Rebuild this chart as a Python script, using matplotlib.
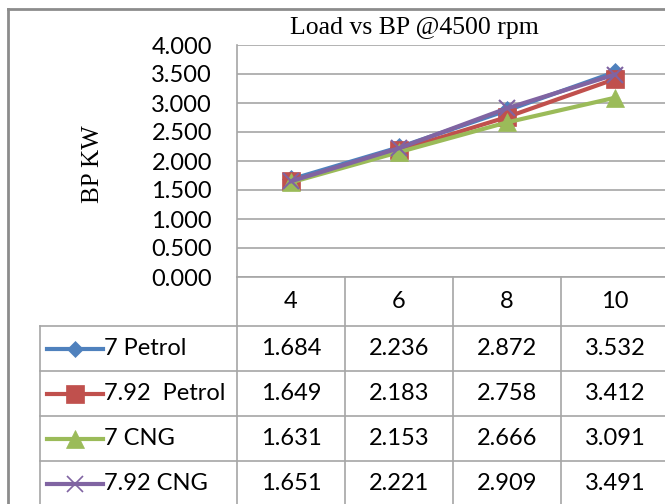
import matplotlib.pyplot as plt
from matplotlib.lines import Line2D

# Data
loads = ['4', '6', '8', '10']
petrol_7 = [1.684, 2.236, 2.872, 3.532]
petrol_792 = [1.649, 2.183, 2.758, 3.412]
cng_7 = [1.631, 2.153, 2.666, 3.091]
cng_792 = [1.651, 2.221, 2.909, 3.491]
series_names = ['7 Petrol', '7.92  Petrol', '7 CNG', '7.92 CNG']
series_values = [petrol_7, petrol_792, cng_7, cng_792]
colors = ['#4F81BD', '#C0504D', '#9BBB59', '#8064A2']
markers = ['D', 's', '^', 'x']
msizes = [9, 13, 13, 12]
yticks = [0, 0.5, 1.0, 1.5, 2.0, 2.5, 3.0, 3.5, 4.0]

W, H = 665, 504
fig = plt.figure(figsize=(W / 100, H / 100), dpi=100)

def fx(px):
    return px / W

def fy(py):
    return 1 - py / H

num_font = 'Lato'
num_size = 17
serif_font = 'Liberation Serif'
grid_col = '#A6A6A6'

# plot area in pixels
left, right, top, bottom = 237, 669, 45, 277
ax = fig.add_axes([fx(left), fy(bottom), fx(right - left), fy(top) - fy(bottom)])
x = range(len(loads))
for vals, c, m, ms in zip(series_values, colors, markers, msizes):
    ax.plot(x, vals, color=c, lw=3, marker=m, ms=ms, mec=c, mew=1.5 if m == 'x' else 0.5,
            clip_on=False, zorder=3)
ax.set_xlim(-0.5, len(loads) - 0.5)
ax.set_ylim(0, 4)
ax.set_yticks(yticks)
ax.set_yticklabels([f'{v:.3f}' for v in yticks], fontsize=num_size, family=num_font)
ax.yaxis.grid(True, color=grid_col, lw=1.2)
ax.set_axisbelow(True)
ax.tick_params(axis='y', length=0, pad=18)
ax.tick_params(axis='x', length=0, labelbottom=False)
for s in ['top', 'right']:
    ax.spines[s].set_visible(False)
ax.spines['left'].set_color(grid_col)
ax.spines['bottom'].set_color(grid_col)
ax.spines['left'].set_linewidth(1.2)
ax.spines['bottom'].set_linewidth(1.2)

# title and y label
fig.text(fx(414), fy(28), 'Load vs BP @4500 rpm', ha='center', va='center',
         fontsize=18.5, family=serif_font)
fig.text(fx(93), fy(164), 'BP KW', ha='center', va='center', rotation=90,
         fontsize=18, family=serif_font)

# outer chart border
fig.add_artist(Line2D([fx(8), fx(8)], [fy(9), 0], color='#8C8C8C', lw=2))
fig.add_artist(Line2D([fx(8), 1], [fy(9), fy(9)], color='#8C8C8C', lw=2))

# data table
colw = (right - left) / len(loads)
row_top = 326
row_h = 45
for i in range(len(loads) + 1):
    xe = left + i * colw
    fig.add_artist(Line2D([fx(xe), fx(xe)], [fy(bottom), 0], color=grid_col, lw=1.2))
fig.add_artist(Line2D([fx(40), fx(40)], [fy(row_top), 0], color=grid_col, lw=1.2))
for j in range(len(series_names) + 1):
    ye = row_top + j * row_h
    fig.add_artist(Line2D([fx(40), 1], [fy(ye), fy(ye)], color=grid_col, lw=1.2))

for i, lab in enumerate(loads):
    fig.text(fx(left + (i + 0.5) * colw), fy((bottom + row_top) / 2), lab,
             ha='center', va='center', fontsize=num_size, family=num_font)

for j, (name, vals, c, m, ms) in enumerate(zip(series_names, series_values, colors, markers, msizes)):
    yc = row_top + (j + 0.5) * row_h
    fig.add_artist(Line2D([fx(47), fx(103)], [fy(yc), fy(yc)], color=c, lw=3))
    fig.add_artist(Line2D([fx(75)], [fy(yc)], color=c, marker=m, ms=ms * 0.95, mec=c,
                          mew=1.2 if m == 'x' else 0.5, ls='none'))
    fig.text(fx(104), fy(yc), name, ha='left', va='center', fontsize=num_size, family=num_font)
    for i, v in enumerate(vals):
        fig.text(fx(left + (i + 0.5) * colw), fy(yc), f'{v:.3f}',
                 ha='center', va='center', fontsize=num_size, family=num_font)

fig.savefig('out.png', dpi=100)
